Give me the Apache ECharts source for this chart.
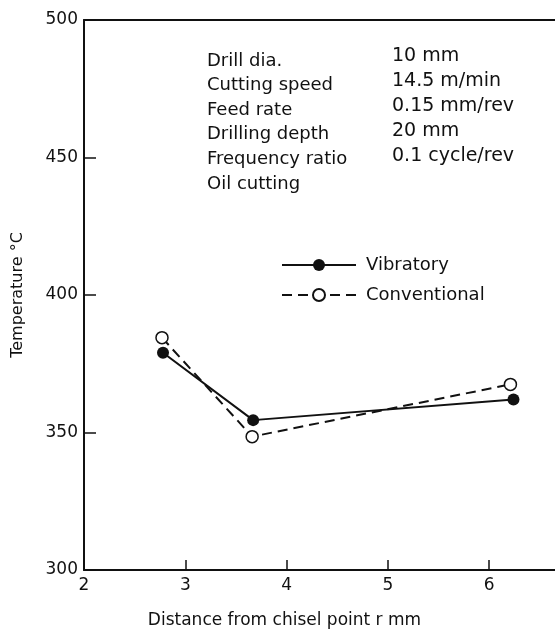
<!DOCTYPE html>
<html>
<head>
<meta charset="utf-8">
<script src="https://cdn.jsdelivr.net/npm/echarts@6/dist/echarts.min.js"></script>
<style>
html,body{margin:0;padding:0;background:#fff;}
#chart{width:555px;height:629px;}
</style>
</head>
<body>
<div id="chart"></div>
<script>
// Data
const seriesNames = ['Vibratory', 'Conventional'];
const vibratoryX = [2.78, 3.67, 6.24];
const vibratoryY = [379, 354.5, 362];
const conventionalX = [2.77, 3.66, 6.21];
const conventionalY = [384.5, 348.5, 367.5];
const yTicks = [300, 350, 400, 450, 500];
const xTicks = [2, 3, 4, 5, 6];
const conditionLabels = ['Drill dia.', 'Cutting speed', 'Feed rate', 'Drilling depth', 'Frequency ratio', 'Oil cutting'];
const conditionValues = ['10 mm', '14.5 m/min', '0.15 mm/rev', '20 mm', '0.1 cycle/rev', ''];
const xAxisTitle = 'Distance from chisel point r mm';
const yAxisTitle = 'Temperature \u00b0C';

const FONT = 'DejaVu Sans';
const chart = echarts.init(document.getElementById('chart'), null, {renderer: 'canvas'});

function pairs(xs, ys) { return xs.map((x, i) => [x, ys[i]]); }

const graphics = [];
conditionLabels.forEach((t, i) => {
  const yLab = 62 + i * 24.6;
  const yVal = 58 + i * 25;
  graphics.push({type: 'text', left: 207, top: yLab - 10, style: {text: t, font: '18px "' + FONT + '"', fill: '#111'}});
  if (conditionValues[i]) {
    graphics.push({type: 'text', left: 392, top: yVal - 11, style: {text: conditionValues[i], font: '19px "' + FONT + '"', fill: '#111'}});
  }
});

chart.setOption({
  animation: false,
  backgroundColor: '#fff',
  grid: {left: 84, right: 0, top: 20, bottom: 59, containLabel: false, outerBoundsMode: 'none'},
  legend: {
    orient: 'vertical',
    left: 276,
    top: 251,
    itemWidth: 74,
    itemHeight: 15,
    itemGap: 12,
    data: seriesNames,
    textStyle: {fontFamily: FONT, fontSize: 18, color: '#111', padding: [0, 0, 0, 5]}
  },
  xAxis: [{
    type: 'value',
    min: xTicks[0],
    max: 6.65,
    interval: 1,
    name: xAxisTitle,
    nameLocation: 'middle',
    nameGap: 42,
    nameTextStyle: {fontFamily: FONT, fontSize: 17, color: '#111', padding: [0, 70, 0, 0]},
    axisLine: {show: true, lineStyle: {color: '#111', width: 2}},
    axisTick: {show: true, inside: true, length: 10, lineStyle: {color: '#111', width: 1.5}},
    axisLabel: {fontFamily: FONT, fontSize: 17, color: '#111', margin: 7, showMaxLabel: false,
      formatter: v => (xTicks.indexOf(v) >= 0 ? String(v) : '')},
    splitLine: {show: false}
  }, {
    type: 'value',
    position: 'top',
    min: xTicks[0],
    max: 6.65,
    axisLine: {show: true, onZero: false, lineStyle: {color: '#111', width: 2}},
    axisTick: {show: false},
    axisLabel: {show: false},
    splitLine: {show: false}
  }],
  yAxis: {
    type: 'value',
    min: yTicks[0],
    max: yTicks[yTicks.length - 1],
    interval: 50,
    name: yAxisTitle,
    nameLocation: 'middle',
    nameGap: 58,
    nameTextStyle: {fontFamily: FONT, fontSize: 16, color: '#111'},
    axisLine: {show: true, lineStyle: {color: '#111', width: 2}},
    axisTick: {show: true, inside: true, length: 12, lineStyle: {color: '#111', width: 1.5}},
    axisLabel: {fontFamily: FONT, fontSize: 17, color: '#111', margin: 6},
    splitLine: {show: false}
  },
  series: [{
    name: seriesNames[0],
    type: 'line',
    data: pairs(vibratoryX, vibratoryY),
    symbol: 'circle',
    symbolSize: 12,
    itemStyle: {color: '#111'},
    lineStyle: {color: '#111', width: 2}
  }, {
    name: seriesNames[1],
    type: 'line',
    data: pairs(conventionalX, conventionalY),
    symbol: 'circle',
    symbolSize: 12,
    itemStyle: {color: '#fff', borderColor: '#111', borderWidth: 1.5},
    lineStyle: {color: '#111', width: 2, type: [10, 6]}
  }],
  graphic: graphics
});
</script>
</body>
</html>
